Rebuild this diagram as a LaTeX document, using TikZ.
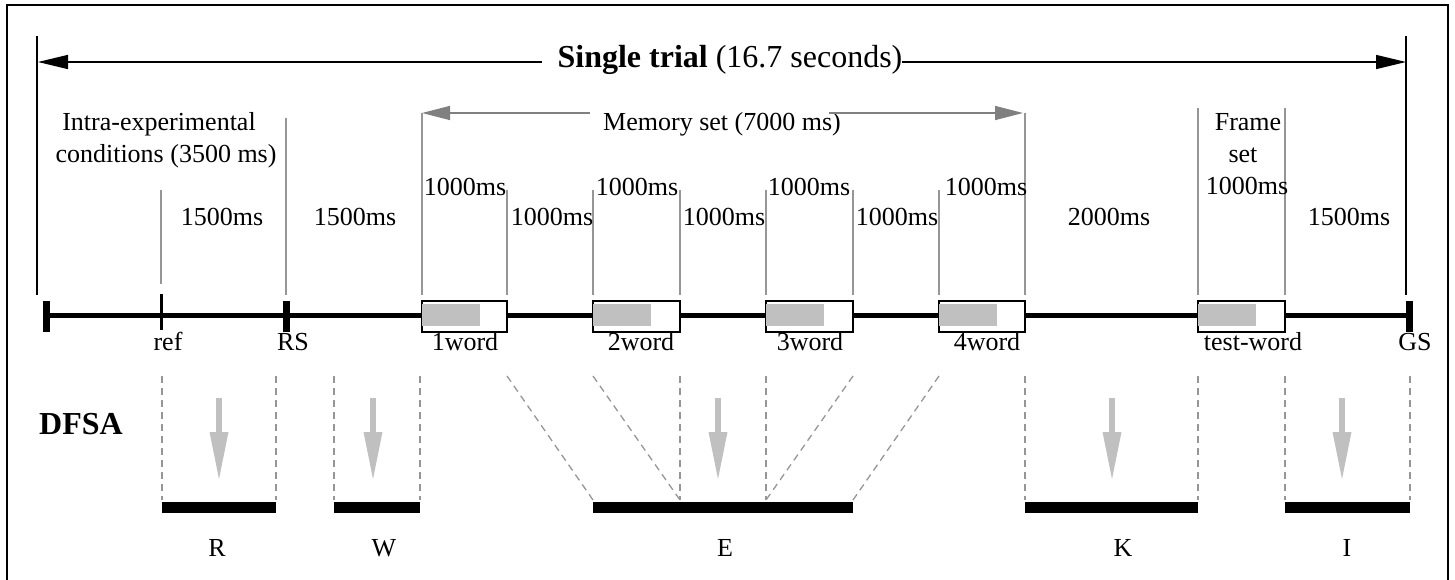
\documentclass[tikz,border=0pt]{standalone}
\usepackage{fontspec}
\setmainfont{Liberation Serif}
\usetikzlibrary{arrows.meta}
\definecolor{linegray}{RGB}{150,150,150}
\definecolor{arrowgray}{RGB}{128,128,128}
\definecolor{fillgray}{RGB}{192,192,192}

\begin{document}
\begin{tikzpicture}[x=1pt,y=-1pt,
  lbl/.style={anchor=base, inner sep=0pt, font=\fontsize{26}{30}\selectfont},
  big/.style={anchor=base, inner sep=0pt, font=\fontsize{32}{38}\selectfont},
  guide/.style={draw=linegray, line width=1.5pt},
  edge/.style={draw=black, line width=2pt},
  span/.style={draw=black, line width=1.5pt, -{Triangle[length=30pt,width=14pt]}},
  memspan/.style={draw=arrowgray, line width=1.5pt, -{Triangle[length=28pt,width=14pt]}},
  axis/.style={draw=black, line width=5pt},
  cut/.style={draw=linegray, line width=1.3pt, dash pattern=on 7pt off 5pt},
  wordbox/.style={draw=black, line width=2pt, fill=white},
]
\useasboundingbox (0,0) rectangle (1455,580);

% frame
\draw[line width=2pt] (7,5) rectangle (1448,595);

% whole trial
\coordinate (trialL) at (38,62);
\coordinate (trialR) at (1406,62);
\coordinate (gapL) at (542,62);
\coordinate (gapR) at (902,62);
\node[big] (trial) at (730,68) {\textbf{Single trial} (16.7 seconds)};
\draw[span] (gapL) -- (trialL);
\draw[span] (gapR) -- (trialR);
\draw[edge] (37,36) -- (37,295);
\draw[edge] (1406,36) -- (1406,295);

% memory set span
\coordinate (memL) at (422,113);
\coordinate (memR) at (1023,113);
\coordinate (memgapL) at (590,113);
\coordinate (memgapR) at (829,113);
\node[lbl] (memory) at (722,131) {Memory set (7000 ms)};
\draw[memspan] (memgapL) -- (memL);
\draw[memspan] (memgapR) -- (memR);

% interval boundaries
\draw[guide] (161,190) -- (161,284);
\foreach \x/\t in {286/118, 422/113, 507/190, 593/190, 680/190, 766/190,
                   853/190, 939/190, 1025/113, 1198/108, 1285/108}
  \draw[guide] (\x,\t) -- (\x,295);

% interval texts
\node[lbl] (intra1) at (159,131) {Intra-experimental};
\node[lbl] (intra2) at (166,163) {conditions (3500 ms)};
\node[lbl] (frame1) at (1248,131) {Frame};
\node[lbl] (frame2) at (1243,163) {set};
\node[lbl] (frame3) at (1247,194) {1000ms};
\node[lbl] (d1) at (222,225) {1500ms};
\node[lbl] (d2) at (355,225) {1500ms};
\node[lbl] (d3) at (465,195) {1000ms};
\node[lbl] (d4) at (552,225) {1000ms};
\node[lbl] (d5) at (637,195) {1000ms};
\node[lbl] (d6) at (724,225) {1000ms};
\node[lbl] (d7) at (809,195) {1000ms};
\node[lbl] (d8) at (897,225) {1000ms};
\node[lbl] (d9) at (986,195) {1000ms};
\node[lbl] (d10) at (1109,225) {2000ms};
\node[lbl] (d11) at (1349,225) {1500ms};

% time axis with markers
\draw[axis] (45,315) -- (1409,315);
\fill (43,301) rectangle (50,332);
\fill (283,301) rectangle (290,332);
\fill (1406,301) rectangle (1413,332);
\draw[line width=3pt] (161,294) -- (161,330);

% word presentations
\foreach \a/\b in {422/507, 593/680, 766/853, 939/1025, 1198/1285} {
  \draw[wordbox] (\a,301) rectangle (\b,332);
  \fill[fillgray] (\a,304) rectangle (\a+58,326);
}

% event labels
\node[lbl] (ref) at (168,350) {ref};
\node[lbl] (rs) at (293,350) {RS};
\node[lbl] (w1) at (465,350) {1word};
\node[lbl] (w2) at (641,350) {2word};
\node[lbl] (w3) at (810,350) {3word};
\node[lbl] (w4) at (987,350) {4word};
\node[lbl] (tw) at (1253,350) {test-word};
\node[lbl] (gs) at (1415,350) {GS};

% DFSA states
\node[big] (dfsa) at (81,434) {\textbf{DFSA}};
\foreach \x in {162,276,334,420,680,766,1025,1198,1285,1410}
  \draw[cut] (\x,376) -- (\x,500);
\draw[cut] (507,376) -- (593,500);
\draw[cut] (593,376) -- (680,500);
\draw[cut] (853,376) -- (766,500);
\draw[cut] (939,376) -- (853,500);

\foreach \a/\b in {162/276, 334/420, 593/853, 1025/1198, 1285/1410}
  \fill (\a,502) rectangle (\b,513);

\foreach \x in {219,373,718,1112,1342} {
  \fill[fillgray] (\x-3,398) rectangle (\x+3,433);
  \fill[fillgray] (\x-9.5,432) -- (\x+9.5,432) -- (\x,479) -- cycle;
}

\node[lbl] (sR) at (217,556) {R};
\node[lbl] (sW) at (384,556) {W};
\node[lbl] (sE) at (725,556) {E};
\node[lbl] (sK) at (1123,556) {K};
\node[lbl] (sI) at (1347,556) {I};
\end{tikzpicture}
\end{document}
